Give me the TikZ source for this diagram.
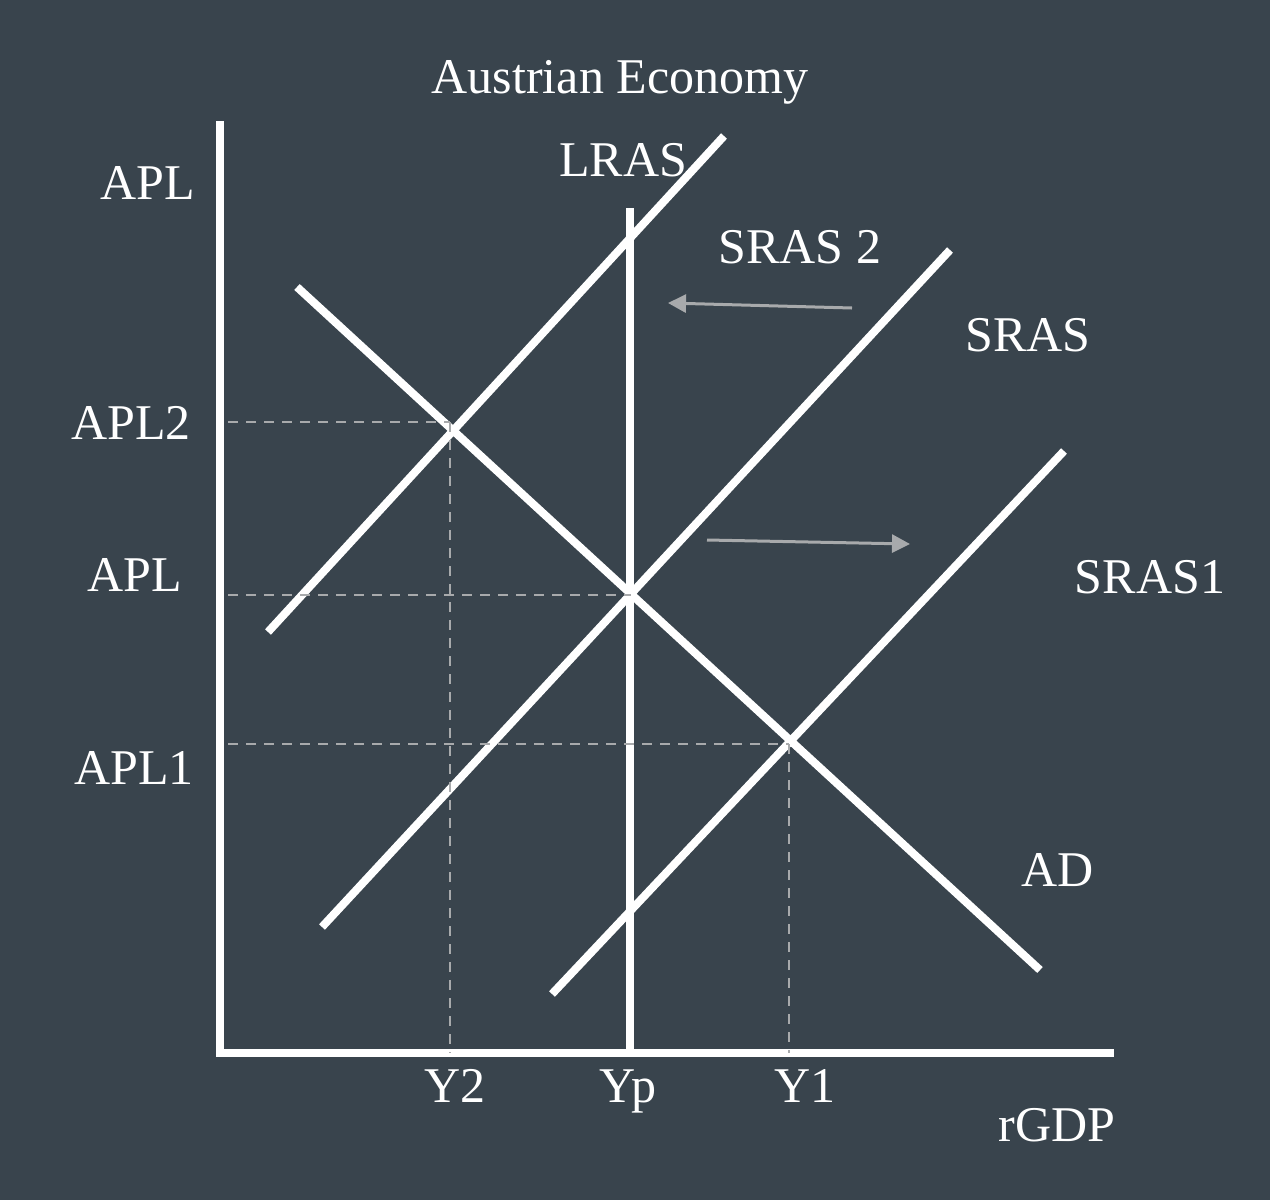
\documentclass[tikz,border=0pt]{standalone}
\usepackage{fontspec}
\setmainfont{Liberation Serif}
\usetikzlibrary{arrows.meta}
\definecolor{slate}{HTML}{39444D}
\definecolor{guide}{HTML}{A8AAAC}
\tikzset{
  curve/.style={line width=4pt,white},
  guideline/.style={guide,line width=1pt,dash pattern=on 5pt off 4pt},
  shift arrow/.style={guide,line width=1.5pt,-{Triangle[length=9pt,width=9pt]}},
  lbl/.style={text=white,font=\fontsize{25}{28}\selectfont,inner sep=0pt}
}
\begin{document}
\begin{tikzpicture}[x=0.5pt,y=-0.5pt]
\fill[slate] (0,0) rectangle (1270,1200);
\useasboundingbox (0,0) rectangle (1270,1200);
% axes
\coordinate (O) at (220,1053);
\coordinate (top) at (220,125);
\coordinate (right) at (1110,1053);
\draw[curve,line cap=rect] (top)--(O)--(right);
% curves
\coordinate (Yp) at (630,1053);
\coordinate (LRAStop) at (630,208);
\draw[curve] (Yp)--(LRAStop);
\draw[curve] (297,287)--(1040,970);
\draw[curve] (268,632)--(724,136);
\draw[curve] (322,927)--(950,250);
\draw[curve] (552,994)--(1064,451);
% equilibria
\coordinate (E2) at (450,422);
\coordinate (E0) at (631,595);
\coordinate (E1) at (789,744);
\draw[guideline] (228,422)--(E2);
\draw[guideline] (E2)--(E2|-O);
\draw[guideline] (228,595)--(E0);
\draw[guideline] (228,744)--(E1);
\draw[guideline] (E1)--(E1|-O);
% shifts
\draw[shift arrow] (852,308)--(668,303);
\draw[shift arrow] (707,540)--(910,544);
% labels
\node[lbl] at (620,82) {Austrian Economy};
\node[lbl] at (623,160) {LRAS};
\node[lbl] at (148,183) {APL};
\node[lbl] at (800,247) {SRAS 2};
\node[lbl] at (1028,335) {SRAS};
\node[lbl] at (131,423) {APL2};
\node[lbl] at (135,575) {APL};
\node[lbl] at (1150,577) {SRAS1};
\node[lbl] at (134,768) {APL1};
\node[lbl] at (1058,870) {AD};
\node[lbl,anchor=base] at (455,1102) {Y2};
\node[lbl,anchor=base] at (628,1102) {Yp};
\node[lbl,anchor=base] at (805,1102) {Y1};
\node[lbl,anchor=base] at (1057,1141) {rGDP};
\end{tikzpicture}
\end{document}
